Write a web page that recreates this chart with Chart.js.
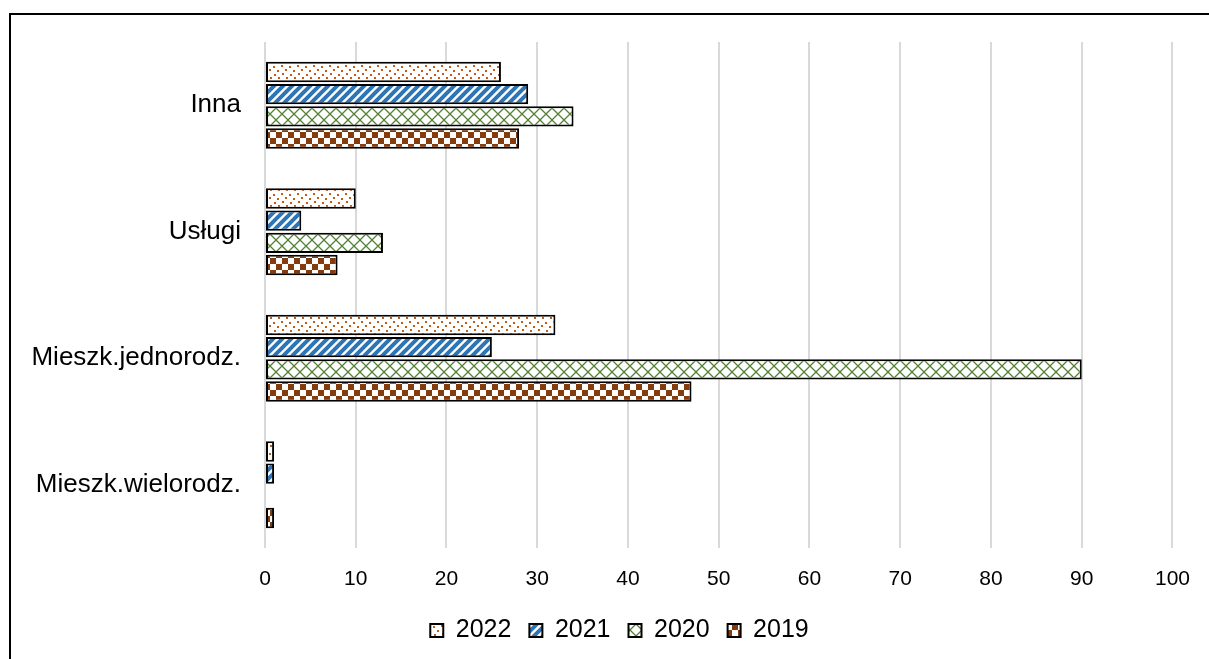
<!DOCTYPE html>
<html>
<head>
<meta charset="utf-8">
<script src="https://cdn.jsdelivr.net/npm/chart.js@4/dist/chart.umd.min.js"></script>
<style>
  html, body { margin: 0; padding: 0; background: #fff; }
  #wrap { position: relative; width: 1209px; height: 659px; overflow: hidden; }
  #frame { position: absolute; left: 9px; top: 13px; width: 1300px; height: 700px; border-left: 2px solid #000; border-top: 2px solid #000; }
  #chart { position: absolute; left: 0; top: 0; }
</style>
</head>
<body>
<div id="wrap">
  <div id="frame"></div>
  <canvas id="chart" width="1209" height="659"></canvas>
</div>
<script>
// --- Dati ---
const categories = ['Inna', 'Usługi', 'Mieszk.jednorodz.', 'Mieszk.wielorodz.'];
const years = ['2022', '2021', '2020', '2019'];
const values2022 = [26, 10, 32, 1];
const values2021 = [29, 4, 25, 1];
const values2020 = [34, 13, 90, 0];
const values2019 = [28, 8, 47, 1];
const xTicks = [0, 10, 20, 30, 40, 50, 60, 70, 80, 90, 100];

// --- Pattern ---
function makeTile(size, draw) {
    const c = document.createElement('canvas');
    c.width = size; c.height = size;
    const ctx = c.getContext('2d');
    ctx.fillStyle = '#fff';
    ctx.fillRect(0, 0, size, size);
    draw(ctx);
    return document.getElementById('chart').getContext('2d').createPattern(c, 'repeat');
}

const dotsPattern = makeTile(16, ctx => {
    ctx.fillStyle = '#C55A11';
    [[1, 2], [9, 1], [5, 6], [13, 5], [2, 10], [10, 9], [6, 13], [14, 13]].forEach(p => ctx.fillRect(p[0], p[1], 2, 2));
});
const stripesPattern = makeTile(9, ctx => {
    ctx.strokeStyle = '#2E75B6';
    ctx.lineWidth = 4;
    ctx.beginPath();
    ctx.moveTo(-2, 11); ctx.lineTo(11, -2);
    ctx.moveTo(-11, 11); ctx.lineTo(2, -2);
    ctx.moveTo(7, 11); ctx.lineTo(20, -2);
    ctx.stroke();
});
const latticePattern = makeTile(12, ctx => {
    ctx.strokeStyle = '#548235';
    ctx.lineWidth = 1.3;
    ctx.beginPath();
    ctx.moveTo(0, 0); ctx.lineTo(12, 12);
    ctx.moveTo(12, 0); ctx.lineTo(0, 12);
    ctx.stroke();
});
const checkerPattern = makeTile(12, ctx => {
    ctx.fillStyle = '#843C0C';
    ctx.fillRect(0, 0, 6, 6);
    ctx.fillRect(6, 6, 6, 6);
});

const fills = [dotsPattern, stripesPattern, latticePattern, checkerPattern];
const seriesValues = [values2022, values2021, values2020, values2019];

const datasets = years.map((y, i) => ({
    label: y,
    data: seriesValues[i],
    backgroundColor: fills[i],
    borderColor: '#000',
    borderWidth: 2,
    borderSkipped: false,
    categoryPercentage: 0.7,
    barPercentage: 0.92
}));

const font = 'Liberation Sans, Arial, sans-serif';

// sposta la legenda un po' a destra, come nell'originale
const legendShift = {
    id: 'legendShift',
    afterLayout(chart) {
        chart.legend.left += 25;
        chart.legend.right += 25;
    }
};

new Chart(document.getElementById('chart'), {
    type: 'bar',
    data: { labels: categories, datasets: datasets },
    plugins: [legendShift],
    options: {
        indexAxis: 'y',
        responsive: false,
        animation: false,
        layout: { padding: { left: 10, top: 42, right: 30, bottom: 6 } },
        scales: {
            x: {
                min: 0, max: 100,
                afterBuildTicks: axis => { axis.ticks = xTicks.map(v => ({ value: v })); },
                afterFit: axis => { axis.height = 52; },
                grid: { color: '#d9d9d9', lineWidth: 2, drawTicks: false },
                border: { display: false },
                ticks: { color: '#000', padding: 19, font: { family: font, size: 21 } }
            },
            y: {
                afterFit: axis => { axis.width = 255; },
                grid: { display: false },
                border: { display: false },
                ticks: { color: '#000', padding: 16, font: { family: font, size: 26 } }
            }
        },
        plugins: {
            legend: {
                position: 'bottom',
                labels: { color: '#000', boxWidth: 13, boxHeight: 13, padding: 18, font: { family: font, size: 25 } }
            },
            tooltip: { enabled: false }
        }
    }
});
</script>
</body>
</html>
